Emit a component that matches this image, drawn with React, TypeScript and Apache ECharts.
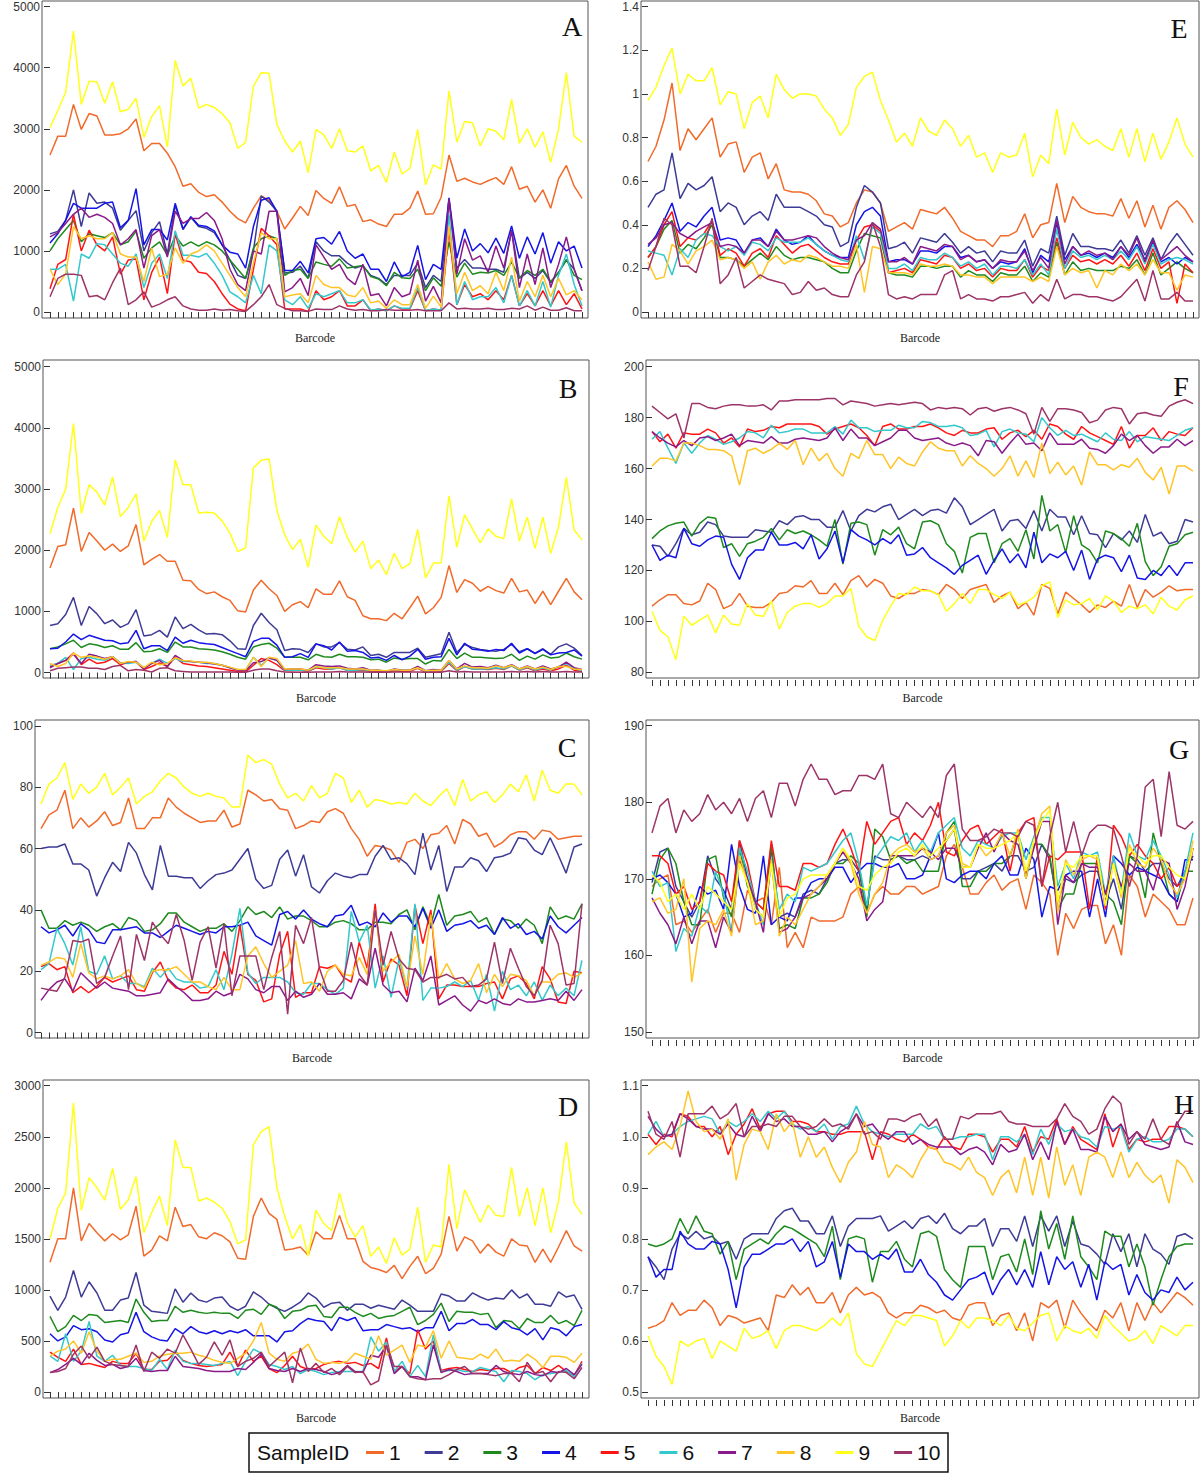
import React, { useEffect, useRef } from "react";
import * as echarts from "echarts";

// ---------- DATA ----------
const sampleIds = ["1", "2", "3", "4", "5", "6", "7", "8", "9", "10"];
const barcodeCount = 69;

// Panel A
const A1 = [2570,2880,2880,3400,2990,3250,3210,2900,2900,2920,3000,3160,2640,2760,2760,2600,2380,2060,2100,1960,1890,1920,1800,1650,1530,1460,1700,1900,1830,1650,1360,1540,1730,1580,1990,1860,1780,2050,1730,1760,1480,1510,1440,1400,1600,1600,1700,1980,1600,1610,1880,2570,2140,2190,2130,2090,2150,2200,2090,2380,2010,2060,1800,2000,1700,2180,2400,2060,1860];
const A2 = [1280,1320,1500,2000,1400,1950,1780,1800,1700,1340,1500,1660,1000,1300,1480,950,1750,1350,1550,1400,1370,1300,1100,850,600,550,1000,1900,1800,1650,640,650,750,560,1150,1000,920,920,800,720,760,600,550,450,600,600,600,800,400,600,500,1850,720,860,720,720,700,700,650,1340,550,650,550,680,480,650,850,700,350];
const A3 = [1000,1200,1350,1500,1150,1280,1250,1220,1300,1100,1150,1320,880,1050,1150,930,1250,1080,1150,1080,1150,1100,1000,850,700,550,1050,1200,1250,1200,600,680,700,550,820,780,750,870,720,740,760,580,540,430,650,560,550,700,350,560,420,1150,570,800,620,650,640,680,600,820,560,680,600,700,500,640,860,600,530];
const A4 = [1130,1280,1500,1780,1700,1700,1700,1780,1800,1380,1500,2020,1100,1350,1350,1180,1780,1360,1560,1420,1400,1330,1100,980,950,720,1400,1830,1870,1650,680,680,830,640,1200,1220,1110,1320,1000,880,950,700,700,500,820,580,650,1090,530,780,700,1870,880,1360,1000,1120,970,1210,960,1410,880,1230,950,1300,800,1150,1000,1080,720];
const A5 = [380,780,860,1600,1000,1340,1100,1000,1230,620,850,870,200,650,900,300,1280,850,820,650,630,500,300,130,50,20,700,1370,1250,1100,50,50,50,10,350,200,250,350,100,100,200,20,50,20,100,50,50,350,20,50,30,1350,120,450,250,300,200,350,200,600,100,300,100,350,100,350,120,300,50];
const A6 = [700,700,780,180,950,880,1120,1100,950,800,750,950,400,800,950,550,1330,930,930,900,960,800,600,330,250,150,600,300,1100,1000,200,120,250,60,300,250,300,350,150,150,200,30,50,20,100,60,60,400,20,50,30,1600,120,500,200,250,250,400,150,600,100,350,100,500,80,600,950,450,100];
const A7 = [1230,1300,1450,1600,1700,1550,1600,1550,1450,1100,1200,1350,720,1250,1350,900,1650,1450,1530,1530,1630,1500,1200,700,450,350,1000,950,1650,1650,330,400,550,270,1100,900,700,780,550,450,780,270,300,100,400,250,300,850,180,420,150,1850,620,1200,850,920,650,1080,720,1330,400,950,450,1050,400,780,1230,700,350];
const A8 = [700,450,620,1400,1200,1250,1200,1200,1300,950,900,900,500,1050,580,620,1050,800,950,1000,1100,1000,800,600,400,250,800,1300,1200,1200,250,280,300,150,600,450,400,400,280,250,400,150,180,60,200,120,120,450,60,260,80,1400,300,650,350,430,300,650,350,900,180,500,250,600,250,550,280,350,200];
const A9 = [3020,3300,3600,4600,3400,3780,3770,3420,3770,3280,3320,3500,2860,3200,3380,2700,4120,3700,3830,3340,3400,3350,3250,3100,2680,2780,3700,3920,3910,3070,2800,2620,2800,2280,2990,2900,2680,3000,2640,2620,2720,2310,2400,2120,2620,2260,2350,2990,2080,2410,2340,3620,2780,3120,3100,2720,3000,2960,2820,3480,2760,3000,2700,2950,2450,3000,3920,2880,2780];
const A10 = [250,550,620,620,600,250,270,200,480,720,120,200,330,80,130,200,250,100,50,30,30,50,30,40,20,10,120,250,450,120,60,20,20,10,50,40,40,100,50,30,40,20,20,40,30,30,30,40,20,20,20,150,50,60,50,50,60,40,40,60,50,100,30,80,30,30,70,20,20];

// Panel B
const B1 = [1710,2060,2090,2690,1980,2290,2150,2000,2100,1980,2070,2420,1760,1850,1930,1820,1820,1510,1500,1360,1290,1320,1240,1180,1010,990,1350,1510,1370,1260,1000,1110,1160,1060,1370,1280,1280,1500,1240,1180,930,880,880,850,970,880,1060,1250,960,1060,1230,1750,1310,1520,1460,1330,1410,1340,1300,1540,1320,1350,1130,1330,1110,1330,1540,1320,1190];
const B2 = [770,800,950,1230,770,1080,960,800,860,740,800,1030,600,620,690,580,910,720,790,700,630,640,620,520,390,380,770,970,820,700,360,390,380,330,470,420,420,490,380,370,420,280,300,250,330,330,330,400,250,280,310,660,330,460,410,380,360,350,380,460,340,390,320,390,300,420,470,400,280];
const B3 = [390,420,470,530,410,470,450,410,440,380,380,490,340,350,390,330,500,420,420,390,380,370,340,300,250,220,420,460,480,400,250,250,250,210,300,260,250,300,260,260,250,210,220,170,240,220,230,230,140,200,190,380,230,320,250,250,240,230,240,300,200,270,220,290,240,250,320,260,220];
const B4 = [390,400,500,630,540,610,570,530,520,470,490,690,390,440,440,360,580,480,530,490,470,460,410,360,310,260,510,560,560,450,250,260,310,250,470,440,370,500,350,360,330,240,250,200,280,210,270,380,220,250,260,560,290,480,380,370,350,380,360,480,320,390,310,380,290,320,330,370,270];
const B5 = [100,150,200,320,130,220,150,170,230,130,170,180,50,100,160,100,250,150,130,110,100,80,60,40,20,10,120,230,200,130,30,30,40,20,80,60,60,80,40,30,40,20,20,10,30,20,20,70,10,30,20,150,30,100,60,60,50,70,50,110,40,80,30,60,30,60,120,40,20];
const B6 = [120,150,250,50,230,250,220,200,260,160,150,170,80,150,220,150,230,180,180,170,150,150,120,80,50,40,250,120,240,200,40,40,40,30,90,80,60,80,40,40,50,30,40,20,50,40,40,80,20,40,30,170,40,100,60,60,60,80,60,110,40,90,40,80,40,100,150,60,40];
const B7 = [80,150,200,300,150,300,270,230,260,150,170,180,60,150,200,100,280,200,180,170,160,140,120,80,40,30,160,180,240,200,50,60,60,40,130,110,100,110,70,60,80,40,40,20,60,40,40,100,30,50,40,200,60,150,90,100,80,120,80,130,60,110,60,110,60,90,170,80,50];
const B8 = [150,100,150,320,250,270,250,220,260,150,180,170,80,170,130,150,240,200,190,170,170,150,120,90,50,50,250,100,250,230,60,60,60,40,100,80,80,80,60,60,60,40,40,30,50,40,40,80,30,40,40,200,60,110,80,80,70,110,80,120,60,100,60,90,50,100,100,60,50];
const B9 = [2270,2700,3000,4070,2600,3070,2950,2740,3200,2550,2700,2920,2150,2470,2650,2210,3480,3070,3070,2610,2620,2610,2480,2280,1980,2040,3350,3470,3490,2650,2250,2010,2180,1720,2410,2230,2110,2550,2210,1970,2150,1700,1840,1600,1950,1700,1780,2340,1550,1790,1790,2890,2050,2580,2350,2120,2350,2230,2190,2840,2150,2540,2030,2540,1950,2380,3190,2330,2170];
const B10 = [30,70,80,90,90,70,70,50,100,120,30,50,40,10,70,80,30,20,10,10,10,10,10,10,5,5,40,60,60,30,10,5,5,5,10,10,10,20,10,10,10,5,5,5,10,10,10,10,5,5,5,30,10,20,10,10,10,10,10,20,10,20,10,20,10,10,20,10,10];

// Panel C
const C1 = [66.5,71,72.5,79,66.5,70,67,69,72,67.5,68.5,76.5,66.5,66.5,70,70,76.5,73.5,71.5,70,68.5,69,69,72.5,67,68,79,77.5,75.5,76,73,72.5,66.5,67.5,69,68.5,72,73,71.5,66.5,63,57.5,61,60.5,59.5,55.5,62,63,60,64.5,65,67.5,61.5,69.5,68,64,65,60.5,62,64.5,65.5,65.5,63,66,65.5,63,63.5,64,64];
const C2 = [60,60.5,60.5,61.5,55,55,53,44.5,50.5,55.5,52.5,62,58.5,51.5,46.5,61,51,51,50.5,50.5,47,49.5,51.5,52,53,56.5,60,50,47,48,56.5,59.5,51,58,47.5,45.5,49.5,52,51,50.5,51.5,51.5,57.5,61,56.5,57,55,51.5,65,53,61,46,54,54,57,56,52.5,57,57.5,58.5,63.5,63,59.5,58,63.5,58,52,60.5,61.5];
const C3 = [40,34,34,36.5,35,36,35,33,34.5,35.5,33.5,37.5,36.5,33,33.5,35.5,39,39,36,34.5,33,34,34,35.5,33,36.5,41,38.5,39.5,37.5,41,37,38,38,36.5,34.5,34.5,36,36.5,35.5,33.5,33.5,36,36,35.5,38.5,40,33.5,41,35,45,35,38,38.5,39.5,36,37.5,32,37,36.5,34,37,35,29,41,37,38,37,42];
const C4 = [34.5,32.5,33.5,35,31.5,35.5,33.5,29.5,29,33.5,33.5,34,34.5,32.5,32.5,31,33,35,34,33,32,33,32.5,34.5,34.5,35,36,31.5,30,28.5,38.5,39.5,37,40,37,35.5,34.5,38,38.5,41.5,35,36,34.5,39,36,38,38,34.5,40.5,34,40,33,35,35.5,36.5,34,35,32,37.5,34,35.5,32,33,30.5,38,34.5,32.5,35,37.5];
const C5 = [21.5,22.5,20.5,21.5,13,15,13,15,18,16.5,17.5,18.5,14,13.5,19.5,23,17,14.5,14,15.5,13,13,15.5,26.5,19,35,19,17,10,11,25.5,33,11.5,13,13,21.5,21,22,18,16.5,29.5,21,42,16.5,24,22,12,41.5,29,40,11,15.5,15.5,15,15,15,16,16.5,11,17.5,18.5,16,11,21.5,17.5,10,9.5,20,19.5];
const C6 = [20.5,22.5,34,29,22,34.5,20,19,25,17.5,18.5,16,16,15,21,18,21,17.5,16.5,16.5,14.5,15,20.5,14,25.5,40.5,19.5,16,18,18,18,16.5,13,12.5,16,16,14,12.5,14.5,39.5,29.5,35,14.5,25,11.5,24,14.5,42,10.5,14.5,14.5,15,16.5,15,17,10.5,19,7,20,14,15.5,12,16.5,10.5,15.5,12,14.5,12,23.5];
const C7 = [10.5,14,16.5,17.5,13.5,19.5,17,14.5,16.5,14.5,14,13.5,12,12,12.5,13,17.5,15,13,10.5,10.5,11,13.5,12,13,19,17.5,14,13,15,15,10.5,13.5,11.5,12.5,16,12.5,12.5,13,11,17.5,15.5,27.5,15.5,13,13.5,10,21,17,25,9,10.5,12,9,7,10.5,9.5,11,9.5,9,11,10,10,10.5,11,10.5,13.5,10.5,14];
const C8 = [22,23,24.5,24,18,29,19.5,17.5,18.5,17.5,18.5,20.5,16,14.5,20,20.5,20.5,21.5,19,16.5,16.5,15,14,18,14,14,25,28,22.5,18,20,22,30,16,16.5,13.5,20,22,19,18.5,24.5,19,40,20,23,25.5,15,31.5,19,38.5,17.5,22.5,17.5,16,17,22.5,13,19,15,19,18.5,17,12,16.5,16.5,19,19.5,18,19.5];
const C9 = [74.5,81,83,88,76,81,78,80,84.5,77.5,80,83,74.5,77,78.5,82,84.5,83,80,78,77,78,77,76.5,73.5,73.5,90.5,88,89,87.5,81,76.5,78,75.5,80.5,76.5,78,84.5,83,75,79,73.5,76,75.5,74.5,75,74.5,78,75.5,74,77,79.5,74,82.5,75.5,77.5,78.5,75,77.5,81,78.5,84,75.5,85.5,79,78,81,81,77.5];
const C10 = [14.5,14,13.5,18,30,29.5,30.5,16,18,25,31.5,14,32,23.5,36,32,29,38.5,30,17,29.5,34.5,21,35.5,12,25,25,25,14,24.5,33,6,35,29,37.5,21,13.5,13.5,17,29.5,19,15.5,40,22,33,24,21,20.5,16.5,18,18,19,17.5,18,15,15.5,17.5,29.5,16,27.5,21,15,12,17,35,29,15.5,16,42];

// Panel D
const D1 = [1270,1500,1500,2000,1480,1650,1560,1480,1550,1490,1540,1820,1330,1390,1530,1480,1810,1620,1640,1520,1500,1560,1530,1470,1310,1300,1720,1900,1750,1690,1390,1400,1420,1340,1570,1500,1500,1730,1500,1500,1280,1220,1200,1170,1240,1110,1230,1330,1160,1210,1350,1720,1380,1520,1480,1360,1450,1370,1330,1500,1440,1430,1270,1400,1270,1420,1580,1430,1380];
const D2 = [940,800,930,1190,930,1080,970,800,800,900,920,1170,850,790,780,770,1010,880,970,900,880,920,930,840,800,840,980,930,860,820,790,830,880,970,920,830,870,880,800,860,860,820,850,830,810,900,850,790,790,790,960,940,890,890,970,930,900,920,910,1000,920,960,860,860,840,980,930,950,810];
const D3 = [740,590,640,750,700,760,750,680,690,700,680,910,780,690,700,700,840,780,800,780,770,780,770,770,720,800,810,760,860,830,720,790,800,840,850,740,730,830,830,780,740,770,720,740,750,790,830,660,700,760,870,690,790,780,780,760,770,630,700,690,620,720,680,680,750,670,700,650,800];
const D4 = [570,500,540,650,610,620,590,510,490,560,580,780,590,540,510,500,620,570,640,590,570,600,570,600,580,610,550,550,550,490,590,600,670,720,700,690,600,730,700,730,600,610,610,660,640,620,630,590,630,630,790,600,670,670,710,660,660,610,690,630,610,560,620,510,630,610,550,640,660];
const D5 = [390,340,300,420,270,280,260,240,300,280,280,380,220,220,300,310,390,310,280,260,250,260,270,390,250,410,300,350,230,190,260,350,250,220,230,270,290,300,280,290,260,280,230,530,200,250,180,610,420,500,210,230,240,220,200,220,210,230,230,190,240,260,180,240,210,260,200,160,300];
const D6 = [350,300,570,300,400,690,350,300,360,260,250,250,230,210,320,220,410,300,280,280,270,260,280,300,160,300,420,380,270,250,220,250,180,220,200,170,190,200,200,200,200,540,400,490,200,300,150,260,150,560,200,210,220,200,200,240,220,200,100,210,200,180,120,170,180,190,210,150,280];
const D7 = [190,220,270,330,270,380,310,260,270,230,250,330,210,200,210,210,350,250,240,230,210,200,200,200,230,220,290,370,230,210,200,230,200,230,220,200,170,190,260,200,190,360,340,450,180,250,150,150,120,460,190,220,200,170,180,180,180,260,200,180,170,200,170,160,200,190,230,170,270];
const D8 = [350,400,420,500,380,590,400,300,320,320,350,380,290,300,350,370,380,380,390,360,340,310,290,280,330,380,500,680,380,320,300,380,400,470,320,280,290,280,300,380,350,320,550,360,410,460,290,460,440,600,330,500,340,330,320,370,330,420,300,310,300,370,320,240,350,350,340,290,380];
const D9 = [1500,1800,1950,2830,1780,2100,2000,1880,2190,1790,1880,2110,1560,1760,1920,1630,2470,2200,2200,1870,1900,1860,1800,1670,1450,1490,2420,2550,2600,2000,1720,1500,1640,1330,1780,1650,1580,1950,1660,1520,1630,1330,1420,1260,1510,1340,1400,1810,1270,1440,1420,2230,1600,1980,1820,1660,1830,1730,1720,2200,1720,2000,1630,2000,1560,1870,2450,1850,1740];
const D10 = [190,200,230,370,450,330,440,300,270,260,250,460,200,390,330,420,380,560,420,270,340,490,360,510,250,300,330,390,250,320,390,90,430,200,280,190,230,170,250,190,200,70,110,460,250,250,150,130,120,130,130,170,220,250,180,180,170,160,180,180,100,290,180,200,100,200,190,130,240];

// Panel E
const E1 = [0.69,0.76,0.88,1.05,0.74,0.84,0.79,0.84,0.89,0.71,0.77,0.78,0.64,0.71,0.73,0.61,0.68,0.56,0.55,0.55,0.54,0.51,0.45,0.44,0.39,0.41,0.50,0.56,0.55,0.50,0.37,0.39,0.41,0.38,0.47,0.46,0.45,0.48,0.43,0.37,0.35,0.33,0.33,0.30,0.35,0.35,0.37,0.45,0.34,0.40,0.41,0.59,0.41,0.53,0.48,0.46,0.45,0.45,0.44,0.52,0.43,0.51,0.39,0.49,0.38,0.48,0.51,0.47,0.41];
const E2 = [0.48,0.54,0.56,0.73,0.52,0.59,0.56,0.58,0.62,0.46,0.50,0.48,0.40,0.44,0.46,0.42,0.54,0.48,0.48,0.48,0.46,0.44,0.40,0.39,0.30,0.32,0.48,0.58,0.55,0.50,0.29,0.30,0.32,0.27,0.34,0.33,0.32,0.36,0.32,0.27,0.30,0.27,0.28,0.23,0.28,0.27,0.27,0.33,0.21,0.29,0.27,0.44,0.26,0.36,0.30,0.30,0.29,0.29,0.28,0.33,0.27,0.35,0.26,0.34,0.24,0.31,0.36,0.31,0.26];
const E3 = [0.25,0.30,0.38,0.42,0.27,0.31,0.29,0.34,0.40,0.25,0.25,0.24,0.21,0.24,0.27,0.24,0.30,0.26,0.24,0.25,0.25,0.24,0.23,0.20,0.18,0.18,0.28,0.36,0.35,0.34,0.18,0.17,0.17,0.16,0.21,0.21,0.20,0.21,0.21,0.16,0.19,0.17,0.17,0.14,0.18,0.17,0.17,0.21,0.14,0.18,0.16,0.32,0.17,0.23,0.19,0.20,0.19,0.19,0.19,0.21,0.20,0.24,0.17,0.27,0.17,0.20,0.23,0.20,0.18];
const E4 = [0.30,0.35,0.42,0.50,0.37,0.41,0.39,0.44,0.48,0.33,0.34,0.33,0.27,0.33,0.34,0.30,0.38,0.33,0.31,0.32,0.35,0.31,0.28,0.26,0.25,0.25,0.40,0.46,0.48,0.44,0.23,0.24,0.24,0.22,0.28,0.28,0.27,0.30,0.30,0.25,0.26,0.23,0.24,0.20,0.23,0.22,0.23,0.29,0.18,0.26,0.23,0.41,0.24,0.30,0.26,0.27,0.25,0.27,0.25,0.30,0.25,0.31,0.24,0.32,0.23,0.25,0.22,0.25,0.23];
const E5 = [0.25,0.30,0.40,0.46,0.30,0.34,0.33,0.36,0.42,0.26,0.29,0.27,0.21,0.27,0.29,0.25,0.35,0.31,0.27,0.30,0.31,0.28,0.25,0.23,0.22,0.22,0.33,0.39,0.40,0.37,0.18,0.19,0.20,0.18,0.24,0.23,0.22,0.26,0.25,0.20,0.22,0.19,0.20,0.16,0.20,0.19,0.19,0.24,0.16,0.21,0.19,0.34,0.20,0.26,0.23,0.24,0.22,0.24,0.22,0.26,0.21,0.27,0.19,0.29,0.20,0.23,0.04,0.22,0.18];
const E6 = [0.28,0.27,0.26,0.17,0.29,0.25,0.33,0.36,0.35,0.30,0.28,0.30,0.26,0.32,0.31,0.28,0.34,0.32,0.32,0.32,0.34,0.31,0.28,0.26,0.24,0.23,0.35,0.24,0.39,0.36,0.20,0.20,0.22,0.19,0.25,0.24,0.24,0.27,0.25,0.21,0.23,0.20,0.22,0.17,0.21,0.21,0.20,0.24,0.17,0.22,0.17,0.38,0.20,0.28,0.25,0.26,0.24,0.26,0.24,0.28,0.24,0.30,0.22,0.31,0.22,0.24,0.25,0.24,0.22];
const E7 = [0.31,0.34,0.40,0.41,0.36,0.34,0.37,0.39,0.41,0.30,0.31,0.30,0.27,0.33,0.33,0.30,0.37,0.33,0.33,0.34,0.35,0.34,0.30,0.27,0.25,0.24,0.33,0.35,0.41,0.38,0.23,0.23,0.25,0.22,0.30,0.29,0.28,0.31,0.30,0.24,0.26,0.23,0.24,0.20,0.24,0.23,0.23,0.28,0.19,0.25,0.20,0.42,0.22,0.30,0.26,0.28,0.26,0.27,0.24,0.30,0.26,0.34,0.23,0.33,0.24,0.27,0.30,0.26,0.23];
const E8 = [0.23,0.15,0.16,0.31,0.28,0.22,0.28,0.30,0.33,0.24,0.25,0.24,0.20,0.23,0.15,0.23,0.26,0.22,0.24,0.23,0.26,0.25,0.23,0.21,0.21,0.20,0.31,0.09,0.30,0.29,0.18,0.18,0.18,0.17,0.22,0.21,0.21,0.22,0.21,0.17,0.17,0.16,0.16,0.13,0.16,0.16,0.16,0.16,0.14,0.16,0.14,0.30,0.17,0.20,0.18,0.19,0.11,0.19,0.17,0.22,0.19,0.22,0.17,0.24,0.18,0.18,0.10,0.17,0.16];
const E9 = [0.97,1.03,1.13,1.21,1.0,1.09,1.06,1.06,1.12,0.95,1.01,1.0,0.84,0.96,0.99,0.89,1.09,1.02,0.98,1.0,1.0,0.99,0.93,0.89,0.81,0.86,1.03,1.08,1.10,0.97,0.88,0.78,0.82,0.76,0.89,0.83,0.81,0.88,0.84,0.76,0.81,0.71,0.73,0.64,0.73,0.71,0.72,0.82,0.62,0.72,0.68,0.93,0.72,0.87,0.80,0.77,0.79,0.76,0.74,0.84,0.71,0.84,0.69,0.82,0.70,0.78,0.89,0.77,0.71];
const E10 = [0.19,0.30,0.43,0.40,0.21,0.21,0.18,0.30,0.43,0.13,0.17,0.25,0.11,0.14,0.17,0.15,0.14,0.13,0.08,0.09,0.14,0.10,0.11,0.08,0.07,0.07,0.17,0.23,0.41,0.30,0.08,0.06,0.07,0.06,0.08,0.08,0.08,0.17,0.19,0.06,0.08,0.06,0.06,0.05,0.07,0.07,0.08,0.09,0.04,0.08,0.05,0.15,0.06,0.08,0.08,0.07,0.07,0.06,0.05,0.07,0.11,0.15,0.05,0.19,0.06,0.06,0.09,0.05,0.05];

// Panel F
const F1 = [106,108.5,110.5,110.5,107,106.5,108,115,112.5,105,106.5,111,106,105.5,105.5,107.5,111,111.5,114,113.5,116,111,111,115,110.5,116,118,113.5,116.5,115,110,109,111,111,112.5,112,110.5,114.5,112.5,109,112.5,113.5,114.5,107.5,110,111.5,105,107.5,102.5,114.5,113,103,111.5,109,106.5,103.5,106.5,105.5,108,106,114.5,105.5,112.5,109.5,111.5,114,112,112.5,112.5];
const F2 = [130,129.5,125.5,130.5,136.5,134,135,139,138,133.5,133,133,133,136,135.5,135,139.5,138,141,141.5,140,140,137,137,143.5,135.5,141.5,144,143,145,146,140,142,144,141.5,143.5,144,142.5,148.5,145,138,140,142,144,135.5,139.5,140,136.5,143.5,135.5,144,141,141,134,141.5,134.5,134,129,134.5,132,135.5,131,142,133.5,135,130.5,131.5,140,139];
const F3 = [132.5,135.5,137.5,138.5,139,133.5,138.5,141,140.5,129,130.5,125.5,130.5,131.5,133,136.5,132,136,134.5,135.5,134,132,129.5,140,122.5,138.5,139,138,126,136,134,137,130.5,128.5,139,139.5,138,130.5,127.5,119,133,134.5,134.5,123,130.5,132.5,127.5,136,124.5,149.5,135.5,138,127,141.5,130,128,123,135.5,134.5,132.5,129.5,138.5,123.5,118,121.5,129.5,130.5,134,135];
const F4 = [130,124,126,125,136.5,130.5,129.5,132,133.5,133,122.5,116.5,125,128,128,135,130,130,131,128.5,134,124.5,128.5,135.5,123,136,133.5,132,130,132.5,130.5,134,126,126.5,129,125,123,121,118.5,122,124,126,118.5,124,128.5,123,126.5,121,135,123,126.5,125,127.5,120,128,116.5,124.5,126,125,119.5,126,117,116.5,120,118,122,118,123,123];
const F5 = [174.5,170.5,173.5,168,174,173.5,173.5,175.5,174,170,172,168.5,175.5,174.5,175,176.5,176,177.5,177.5,177.5,177.5,176.5,173.5,175.5,176.5,177.5,176,173,169,176.5,177.5,175.5,175.5,176.5,176.5,177.5,176,174,173,175,174,174,175.5,176,171.5,174,175,172.5,175,171.5,177.5,176.5,173.5,171.5,176.5,174,172.5,171,169.5,176.5,168,173,173,176,171,174.5,173.5,173,176];
const F6 = [171.5,174.5,168,162,170,166,170,173,171.5,169.5,170.5,172,174.5,174,172,177,174,174.5,175.5,175.5,174,174,174,176.5,173.5,179,176,176,174.5,175,175,177,176,176,178.5,178,176.5,176.5,177,176,173,173.5,175,168.5,174.5,175.5,174,173.5,170.5,180,176,173,175,173,173.5,172,170.5,174,171.5,171,174.5,170.5,172.5,172,171.5,171,173,175,176];
const F7 = [174.5,172,170,168.5,171,169,172,172.5,171,172,173.5,169,171,170.5,170,172.5,170,170,171.5,172,171.5,171,172,176,171,175.5,172,172,169,170.5,172,175,175,172,171,171.5,172,170,169,170,169,165,171,170.5,166,170,173.5,169.5,170,167,174,169.5,169.5,169.5,171.5,168,167.5,166,169,173.5,171,173,169,166,168.5,168.5,171.5,169,171];
const F8 = [161,164,164,163,170,170,169,167.5,167.5,167,165,153.5,167,168,166,167.5,170,167.5,171,161.5,168,163,166,160,157,166,164,171,165.5,165.5,160,164.5,162,161,166.5,170.5,168,167,167,161,165,162,160,157,160,165,157,163,156.5,170,158,162.5,157.5,161,153.5,166.5,161.5,161.5,159.5,161.5,160.5,164,158.5,155.5,160.5,150,161,161,159];
const F9 = [104,96.5,94,85,102,98.5,100.5,102.5,95.5,102.5,99,98.5,107,102.5,102,108,97,103.5,106,107,107,105.5,107,110,110,113,98,94,92.5,100.5,106,111,110.5,113.5,112,112,110.5,104,107,111,107,112.5,112.5,110.5,109,111.5,106.5,107.5,109.5,114,115.5,101.5,108.5,106.5,107,109,104.5,110,108,103.5,106,105,106.5,103,109.5,106,104.5,108.5,110];
const F10 = [184.5,182,179.5,181.5,172,185.5,185.5,184,183.5,184.5,185,185,184.5,184.5,185,183,186.5,186.5,187,187,187,187,187.5,187.5,185,186.5,186,185.5,184.5,185,185.5,185,185.5,186,185.5,183,184,183.5,184,183.5,181,183.5,184,182.5,183.5,184,183,181.5,173.5,184,178.5,183.5,183.5,183,182,178,179,183,184,183.5,177.5,181.5,182,181,180.5,184.5,186,187,185.5];

// Panel G
const G1 = [169,170,170.5,164,164.5,163,164.5,166,163,165.5,165.5,163,168.5,167,167.5,164,171.5,161,163,161,165,164.5,164.5,164.5,165,168,169,165.5,168,169,168,168,169,169,168,168.5,169,173,174.5,171.5,168,168,169.5,170.5,168.5,169.5,170,166,170.5,169.5,168,160,165.5,163.5,166,166.5,166.5,161.5,164,160,170.5,169,165,168,167,166,164,164,167.5];
const G2 = [169.5,173.5,174,169,167,165,167,173,170,168.5,166,175,170,166,165,174,165,165.5,165,168,168.5,168,170,172,172.5,172.5,171,166,173,172.5,172.5,173,172.5,172.5,173,172.5,173,175,176.5,170,170,171,171.5,172,171,173,173,171,171.5,174.5,172.5,167,170,169.5,170.5,171,171,167,170,166,173,172.5,171,172,172,170,169,171,173];
const G3 = [168,172.5,174,172,167,164,164,172.5,173,167.5,165,174,169,167,166,174.5,163.5,164,163.5,167.5,167.5,168,169.5,172,172,173,172,165,176.5,175.5,172.5,173,172,172.5,171,171,171,176,177.5,169,169,171,171,172,172,173,176,170,174.5,174.5,173,166,168,168,172,172,172,168,167,164,173,172,167.5,176,172,168,167,171,171];
const G4 = [170,170.5,169.5,168,165,165.5,169,168,168.5,166,174.5,169,166,165.5,173,164,165,164.5,167.5,167.5,169.5,170,170,171.5,171.5,169.5,171,172,172,171.5,171.5,172,170,170,170.5,173,176,170,169.5,170.5,171,171,170,172,173,170.5,170.5,174,172.5,165,169,168.5,170.5,171,171,165,170,165,173,172,170.5,171.5,171,170.5,170,168,167,172.5,172.5];
const G5 = [173,173,172,168,169,166,167,172,171,170.5,167,175,172,167,166,175,169,169,168.5,172,172,171.5,172,174.5,176.5,174,171,177.5,174.5,176,177.5,178,174.5,176,175,177,180,173.5,173,175,176.5,177,174.5,175.5,176.5,171,176,177.5,178,169,173,172.5,173.5,173.5,173.5,166,173,166,177,175.5,173,174.5,173,172,170,171.5,169,170,174];
const G6 = [171,169,169.5,160.5,163.5,162.5,166.5,165.5,171,168,163,174,171,167,164,172.5,166,168,167,171.5,171,171.5,172,173.5,175,176,172,166.5,172.5,174,175.5,175,176,173.5,175,173.5,176,177,178,174,173,175,174.5,174,175.5,176,176,172.5,175.5,178,178,169,172,170,173.5,173,173.5,168,173,168.5,176,173,172.5,175,173,170.5,167.5,171,176];
const G7 = [167.5,165.5,164,161.5,165,161.5,164.5,164.5,161,165,163,172.5,170,167,163,172.5,163,163.5,165,167.5,168,169,170,172,173.5,172,170,164.5,166,167,173,173,173,173,174,173.5,172.5,174,174,171.5,171.5,174,176,173.5,176,175,174.5,170.5,174,177.5,177.5,164,170.5,169.5,172,171.5,171.5,168,172,169,172,171,171,168.5,172.5,172,166,169,174];
const G8 = [167,167.5,165.5,166,170,156.5,163.5,164.5,164,166,162.5,173,169.5,164,164.5,172.5,162.5,165,164,166,168,169,170.5,172,174,172,168,165.5,168,169.5,173,174,174.5,173.5,174,172.5,173,176,177,172,171.5,174.5,173,174,176,173,176.5,170,175,178.5,179.5,165.5,172.5,170.5,172.5,173,172.5,166.5,172,167.5,174.5,172,171.5,174,172.5,169.5,168,170,175];
const G9 = [170.5,169.5,167,168,166,168,166,169,168,167,166,172,169.5,166,165,172,165,167.5,168,170,170.5,170.5,170.5,172,174,172.5,169,168.5,170.5,171.5,172,173.5,174,173,174.5,173,174,175,176.5,171.5,171.5,174.5,174,174,174.5,175,176,171,175,177.5,179,167,172,171.5,173,173,173,166.5,172,168,174,173,172,173,173,171.5,170.5,170,174];
const G10 = [176,179.5,180.5,176,179,177.5,178.5,181,179,180,178.5,180.5,177.5,180.5,181.5,178,182.5,182.5,179.5,183,185,183,183,181,181.5,181.5,183.5,183.5,183,185,178.5,178,180,179,178,179.5,178,183.5,185,176.5,175,175,175.5,176.5,176,176,175.5,177.5,177,169,175.5,180,173.5,177.5,173,176,177,177,176.5,173,169,173,182,183,175.5,184,177,176.5,177.5];

// Panel H
const H1 = [0.625,0.63,0.64,0.675,0.65,0.66,0.66,0.68,0.665,0.63,0.65,0.645,0.635,0.64,0.645,0.62,0.69,0.685,0.71,0.69,0.705,0.675,0.675,0.695,0.655,0.69,0.705,0.69,0.695,0.685,0.655,0.645,0.655,0.655,0.67,0.665,0.655,0.66,0.645,0.64,0.67,0.675,0.675,0.63,0.65,0.655,0.62,0.655,0.60,0.675,0.665,0.68,0.625,0.68,0.655,0.635,0.62,0.66,0.645,0.675,0.62,0.675,0.64,0.675,0.655,0.675,0.695,0.685,0.67];
const H2 = [0.765,0.745,0.72,0.78,0.81,0.80,0.815,0.80,0.805,0.79,0.795,0.76,0.80,0.81,0.81,0.81,0.84,0.855,0.86,0.835,0.835,0.81,0.81,0.845,0.785,0.825,0.84,0.84,0.84,0.845,0.815,0.825,0.835,0.82,0.84,0.845,0.83,0.85,0.82,0.81,0.825,0.825,0.84,0.785,0.82,0.82,0.795,0.845,0.785,0.845,0.815,0.845,0.785,0.835,0.79,0.785,0.77,0.75,0.81,0.775,0.81,0.745,0.81,0.78,0.77,0.75,0.805,0.81,0.80];
const H3 = [0.79,0.785,0.79,0.80,0.84,0.81,0.845,0.815,0.81,0.77,0.795,0.72,0.78,0.79,0.80,0.79,0.81,0.825,0.82,0.81,0.80,0.79,0.765,0.825,0.72,0.80,0.805,0.80,0.715,0.775,0.775,0.795,0.76,0.745,0.81,0.815,0.805,0.74,0.72,0.705,0.785,0.785,0.785,0.72,0.765,0.77,0.735,0.80,0.73,0.855,0.78,0.83,0.76,0.845,0.765,0.745,0.72,0.815,0.805,0.805,0.745,0.79,0.745,0.67,0.72,0.765,0.785,0.79,0.79];
const H4 = [0.765,0.725,0.74,0.74,0.815,0.79,0.78,0.78,0.795,0.79,0.74,0.665,0.745,0.77,0.77,0.78,0.79,0.79,0.80,0.775,0.795,0.745,0.755,0.795,0.725,0.79,0.775,0.775,0.76,0.77,0.76,0.78,0.735,0.735,0.76,0.73,0.715,0.69,0.68,0.70,0.72,0.725,0.735,0.69,0.72,0.74,0.71,0.74,0.705,0.775,0.71,0.765,0.74,0.755,0.705,0.75,0.68,0.755,0.74,0.75,0.69,0.73,0.695,0.68,0.70,0.695,0.725,0.70,0.715];
const H5 = [1.005,0.985,1.005,1.00,1.045,1.04,1.02,1.02,1.00,1.02,0.965,1.005,1.025,1.055,1.015,1.045,1.05,1.05,1.03,1.03,1.025,1.01,1.01,1.005,1.005,1.01,1.01,1.01,0.955,1.01,1.005,0.995,0.99,1.005,0.995,0.98,0.975,1.00,0.98,0.975,1.005,1.005,1.00,0.97,0.995,0.995,0.98,1.02,0.97,1.00,0.995,1.035,0.985,1.02,0.995,0.985,0.975,1.045,0.98,1.025,0.975,0.995,0.99,0.995,0.995,1.02,1.02,1.015,1.00];
const H6 = [1.005,1.03,1.0,1.005,1.02,1.03,1.035,1.04,1.035,1.005,1.03,1.02,1.03,1.045,1.03,1.05,1.035,1.05,1.025,1.015,1.02,1.01,1.025,0.995,1.02,1.025,1.06,1.025,1.01,1.005,1.0,1.005,1.005,1.005,1.025,1.015,1.02,0.995,0.995,1.0,1.0,1.005,1.005,0.955,1.0,1.0,0.99,1.005,0.965,1.015,0.985,1.025,1.01,1.015,1.0,0.995,0.98,1.02,1.015,1.02,0.97,0.995,1.0,0.99,0.99,0.995,1.015,1.015,1.0];
const H7 = [1.04,1.015,1.0,1.005,1.045,1.035,1.02,1.015,1.015,1.005,1.025,1.005,1.0,1.04,1.01,1.045,1.03,1.035,1.02,1.02,1.005,1.005,1.01,0.99,1.01,1.02,1.045,1.02,1.025,1.005,0.995,1.01,1.01,0.985,0.995,0.985,0.98,0.98,0.98,0.965,0.975,0.98,0.97,0.945,0.985,0.97,0.975,1.005,0.955,0.99,0.955,1.03,0.985,1.015,0.975,0.975,0.97,1.04,1.01,1.025,0.995,1.01,0.985,0.98,0.975,0.98,1.03,0.99,0.985];
const H8 = [0.965,0.98,0.99,0.975,1.02,1.09,1.03,1.01,1.015,0.995,1.035,0.915,0.985,1.015,1.01,0.975,1.045,1.01,1.03,0.96,1.0,0.96,0.98,0.94,0.91,0.95,0.97,1.03,0.985,0.98,0.92,0.945,0.935,0.92,0.955,0.98,0.975,0.95,0.945,0.935,0.96,0.93,0.92,0.885,0.92,0.935,0.89,0.96,0.885,0.96,0.88,0.98,0.905,0.945,0.885,0.96,0.97,0.96,0.92,0.97,0.92,0.95,0.925,0.91,0.925,0.87,0.955,0.94,0.91];
const H9 = [0.61,0.57,0.55,0.515,0.60,0.59,0.60,0.605,0.565,0.60,0.59,0.58,0.625,0.605,0.61,0.62,0.585,0.62,0.63,0.63,0.625,0.62,0.63,0.645,0.63,0.655,0.575,0.555,0.55,0.58,0.61,0.64,0.63,0.65,0.65,0.645,0.64,0.59,0.61,0.64,0.625,0.645,0.645,0.64,0.63,0.65,0.625,0.62,0.635,0.65,0.655,0.60,0.63,0.62,0.615,0.625,0.605,0.65,0.63,0.615,0.60,0.605,0.62,0.595,0.63,0.62,0.61,0.63,0.63];
const H10 = [1.05,1.005,0.995,1.03,0.96,1.045,1.045,1.045,1.06,1.035,1.045,1.065,1.0,1.02,1.02,1.025,1.02,1.04,1.04,1.02,1.015,1.02,1.035,1.02,1.025,1.015,1.045,1.005,1.01,0.995,1.035,1.035,1.03,1.04,1.045,1.02,1.035,0.995,0.995,1.04,1.035,1.045,1.045,1.045,1.05,1.03,1.025,1.025,1.02,1.02,1.02,1.035,1.065,1.04,1.03,1.005,1.015,1.055,1.08,1.065,0.985,1.01,0.995,1.035,0.995,0.985,1.025,1.05,1.05];

// Tick values
const yTicksAB = [0, 1000, 2000, 3000, 4000, 5000];
const yTicksC = [0, 20, 40, 60, 80, 100];
const yTicksD = [0, 500, 1000, 1500, 2000, 2500, 3000];
const yTicksE = [0, 0.2, 0.4, 0.6, 0.8, 1, 1.2, 1.4];
const yTicksF = [80, 100, 120, 140, 160, 180, 200];
const yTicksG = [150, 160, 170, 180, 190];
const yTicksH = [0.5, 0.6, 0.7, 0.8, 0.9, 1.0, 1.1];

// ---------- STYLE / LAYOUT ----------
const colors = ["#F26A2A", "#3D3B96", "#1E8A1E", "#1414E6", "#FF1414", "#33C8CC", "#8A1A8A", "#FFC425", "#FFFF1A", "#9C3468"];

const panels = [
  { letter: "A", series: [A1, A2, A3, A4, A5, A6, A7, A8, A9, A10], ticks: yTicksAB, fmt: (v: number) => String(v), left: 42, right: 588, top: 1, height: 317, tickL: 50, tickR: 582, yMin: -98, yMax: 5093, lx: 572, ly: 26 },
  { letter: "B", series: [B1, B2, B3, B4, B5, B6, B7, B8, B9, B10], ticks: yTicksAB, fmt: (v: number) => String(v), left: 43, right: 589, top: 360, height: 318, tickL: 50, tickR: 582, yMin: -88, yMax: 5110, lx: 568, ly: 388 },
  { letter: "C", series: [C1, C2, C3, C4, C5, C6, C7, C8, C9, C10], ticks: yTicksC, fmt: (v: number) => String(v), left: 35, right: 589, top: 720, height: 318, tickL: 41, tickR: 582, yMin: -1.76, yMax: 101.9, lx: 567, ly: 747 },
  { letter: "D", series: [D1, D2, D3, D4, D5, D6, D7, D8, D9, D10], ticks: yTicksD, fmt: (v: number) => String(v), left: 43, right: 589, top: 1080, height: 318, tickL: 50, tickR: 582, yMin: -59, yMax: 3056, lx: 568, ly: 1106 },
  { letter: "E", series: [E1, E2, E3, E4, E5, E6, E7, E8, E9, E10], ticks: yTicksE, fmt: (v: number) => String(v), left: 641, right: 1199, top: 1, height: 317, tickL: 648, tickR: 1193, yMin: -0.0275, yMax: 1.426, lx: 1179, ly: 28 },
  { letter: "F", series: [F1, F2, F3, F4, F5, F6, F7, F8, F9, F10], ticks: yTicksF, fmt: (v: number) => String(v), left: 646, right: 1199, top: 360, height: 318, tickL: 652, tickR: 1193, yMin: 77.8, yMax: 202.6, lx: 1181, ly: 386 },
  { letter: "G", series: [G1, G2, G3, G4, G5, G6, G7, G8, G9, G10], ticks: yTicksG, fmt: (v: number) => String(v), left: 646, right: 1199, top: 720, height: 318, tickL: 652, tickR: 1193, yMin: 149.2, yMax: 190.75, lx: 1179, ly: 749 },
  { letter: "H", series: [H1, H2, H3, H4, H5, H6, H7, H8, H9, H10], ticks: yTicksH, fmt: (v: number) => v.toFixed(1), left: 641, right: 1199, top: 1080, height: 318, tickL: 648, tickR: 1193, yMin: 0.4882, yMax: 1.1112, lx: 1184, ly: 1104 },
];

const SANS = "'Liberation Sans', Arial, sans-serif";
const SERIF = "'Liberation Serif', 'Times New Roman', serif";

function buildOption() {
  const barcodeIdx = Array.from({ length: barcodeCount }, (_, i) => i);
  const grid: any[] = [];
  const xAxis: any[] = [];
  const yAxis: any[] = [];
  const series: any[] = [];
  const graphic: any[] = [];

  panels.forEach((p, k) => {
    const spacing = (p.tickR - p.tickL) / (barcodeCount - 1);
    const xMin = -(p.tickL - p.left) / spacing;
    const xMax = barcodeCount - 1 + (p.right - p.tickR) / spacing;
    grid.push({
      left: p.left,
      top: p.top,
      width: p.right - p.left,
      height: p.height,
      show: true,
      borderColor: "#555",
      borderWidth: 1,
      backgroundColor: "transparent",
    });
    xAxis.push({
      type: "value",
      gridIndex: k,
      min: xMin,
      max: xMax,
      offset: 2,
      name: "Barcode",
      nameLocation: "middle",
      nameGap: 12,
      nameTextStyle: { fontFamily: SERIF, fontSize: 12, color: "#222" },
      axisLine: { show: false },
      axisTick: { show: true, customValues: barcodeIdx, length: 6, lineStyle: { color: "#333", width: 1 } },
      axisLabel: { show: false },
      splitLine: { show: false },
    });
    yAxis.push({
      type: "value",
      gridIndex: k,
      min: p.yMin,
      max: p.yMax,
      axisLine: { show: false },
      axisTick: { show: true, customValues: p.ticks, length: 6, lineStyle: { color: "#333", width: 1 } },
      axisLabel: { show: true, customValues: p.ticks, formatter: p.fmt, margin: 2, fontFamily: SANS, fontSize: 12, color: "#333" },
      splitLine: { show: false },
    });
    p.series.forEach((arr, s) => {
      series.push({
        type: "line",
        name: sampleIds[s],
        xAxisIndex: k,
        yAxisIndex: k,
        data: arr.map((v, i) => [barcodeIdx[i], v]),
        showSymbol: false,
        symbol: "none",
        silent: true,
        color: colors[s],
        lineStyle: { width: 1.5, color: colors[s] },
        itemStyle: { color: colors[s] },
      });
    });
    graphic.push({
      type: "text",
      x: p.lx,
      y: p.ly,
      style: { text: p.letter, font: `28px ${SERIF}`, fill: "#111", align: "center", verticalAlign: "middle" },
      z: 100,
    });
  });

  graphic.push({
    type: "rect",
    shape: { x: 249, y: 1433, width: 699, height: 39 },
    style: { fill: "#fff", stroke: "#111", lineWidth: 1.5 },
    z: 1,
  });
  graphic.push({
    type: "text",
    x: 257,
    y: 1452,
    style: { text: "SampleID", font: `21px ${SANS}`, fill: "#111", align: "left", verticalAlign: "middle" },
    z: 100,
  });

  return {
    animation: false,
    backgroundColor: "#fff",
    textStyle: { fontFamily: SANS },
    grid,
    xAxis,
    yAxis,
    series,
    graphic,
    legend: {
      data: sampleIds,
      left: 361,
      top: 1437,
      orient: "horizontal",
      icon: "rect",
      itemWidth: 18,
      itemHeight: 3,
      itemGap: 24,
      selectedMode: false,
      z: 50,
      textStyle: { fontFamily: SANS, fontSize: 21, color: "#111" },
    },
  };
}

export default function App() {
  const ref = useRef<HTMLDivElement>(null);
  useEffect(() => {
    document.body.style.margin = "0";
    if (!ref.current) return;
    const chart = echarts.init(ref.current, undefined, { renderer: "svg" });
    chart.setOption(buildOption() as any);
    return () => chart.dispose();
  }, []);
  return <div ref={ref} style={{ width: 1200, height: 1475, background: "#fff" }} />;
}
